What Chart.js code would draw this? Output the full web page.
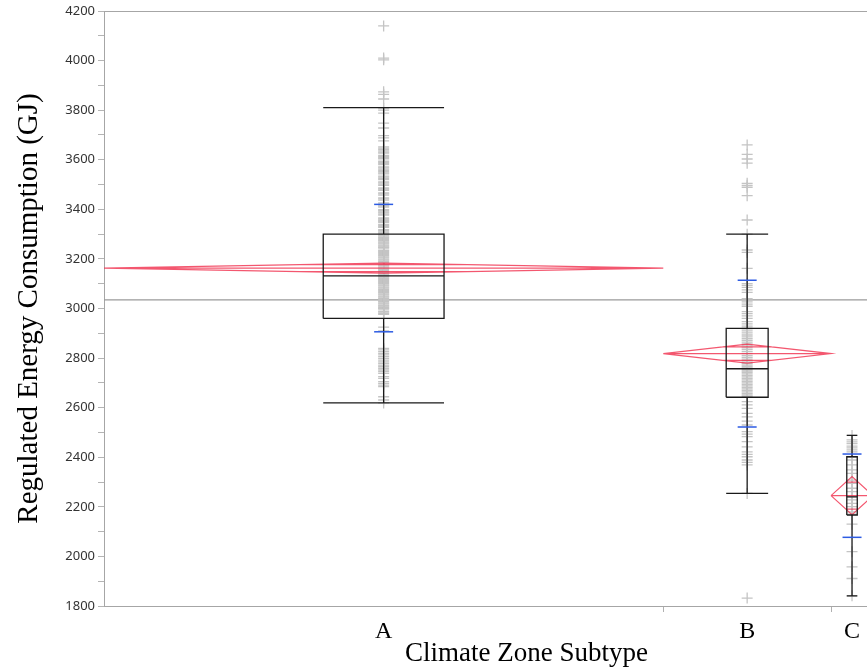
<!DOCTYPE html>
<html>
<head>
<meta charset="utf-8">
<script src="https://cdn.jsdelivr.net/npm/chart.js@4"></script>
<style>
  html, body { margin: 0; padding: 0; background: #fff; overflow: hidden; }
  #wrap { position: relative; width: 874px; height: 669px; }
  #oneway { display: block; }
  #xTitle {
    position: absolute; left: 405px; top: 639px;
    font: 27px "Liberation Serif", "Times New Roman", serif;
    line-height: 27px; color: #000; white-space: nowrap;
  }
</style>
</head>
<body>
<div id="wrap">
  <canvas id="oneway" width="874" height="669"></canvas>
  <div id="xTitle">Climate Zone Subtype</div>
</div>
<script>
// groups and summary stats
const groups = ["A", "B", "C"];
const groupCounts = [400, 120, 30];
const grandMean = 3035;
const means = [3163, 2818, 2245];
const meanCI = [20, 38, 77];
const stdDevs = [257, 296, 168];
const q1 = [2960, 2642, 2167];
const medians = [3132, 2757, 2240];
const q3 = [3300, 2920, 2402];
const whiskerLo = [2619, 2254, 1841];
const whiskerHi = [3810, 3300, 2488];
const yTickValues = [1800, 1900, 2000, 2100, 2200, 2300, 2400, 2500, 2600, 2700, 2800, 2900,
  3000, 3100, 3200, 3300, 3400, 3500, 3600, 3700, 3800, 3900, 4000, 4100, 4200];

const pointsA = [
  4140, 4010, 4003, 3874, 3864, 3845, 3808, 3800, 3788, 3748, 3728, 3697, 3688, 3676,
  3652, 3647, 3642, 3636, 3631, 3627, 3618, 3613, 3609, 3604, 3594, 3590, 3585, 3580,
  3571, 3567, 3562, 3557, 3552, 3547, 3543, 3534, 3530, 3525, 3520, 3511, 3507, 3502,
  3497, 3486, 3482, 3477, 3466, 3462, 3457, 3446, 3442, 3437, 3426, 3422, 3417, 3413,
  3409, 3399, 3395, 3390, 3386, 3381, 3377, 3365, 3361, 3356, 3352, 3348, 3339, 3335,
  3330, 3327, 3318, 3314, 3309, 3305, 3301, 3296, 3292, 3287, 3283, 3278, 3274, 3269,
  3265, 3261, 3256, 3252, 3247, 3244, 3235, 3231, 3226, 3222, 3217, 3213, 3208, 3204,
  3199, 3195, 3190, 3186, 3176, 3172, 3167, 3163, 3158, 3154, 3149, 3145, 3140, 3136,
  3131, 3127, 3122, 3118, 3113, 3109, 3104, 3100, 3095, 3091, 3086, 3082, 3077, 3073,
  3068, 3064, 3059, 3055, 3050, 3046, 3041, 3037, 3032, 3028, 3023, 3019, 3014, 3010,
  3005, 3001, 2998, 2989, 2985, 2980, 2976,
  2925, 2910, 2839, 2833, 2826, 2819, 2813, 2806, 2799, 2792, 2785, 2779, 2772, 2766,
  2759, 2752, 2745, 2738, 2725, 2718, 2705, 2698, 2691, 2685, 2644, 2631, 2619
];
const pointsB = [
  3660, 3622, 3603, 3586, 3505, 3497, 3489, 3455, 3357,
  3300, 3236, 3226, 3162, 3100, 3093, 3085, 3075, 3065, 3040, 3034, 3027, 3018, 3009,
  2987, 2979, 2970, 2960, 2947, 2938, 2929, 2921, 2913, 2905, 2897, 2889, 2880, 2872,
  2864, 2857, 2849, 2841, 2834, 2826, 2818, 2810, 2803, 2796, 2790, 2784, 2778, 2772,
  2766, 2760, 2754, 2748, 2742, 2736, 2730, 2724, 2718, 2712, 2706, 2700, 2694, 2688,
  2682, 2676, 2670, 2664, 2658, 2652, 2646,
  2624, 2611, 2597, 2577, 2563, 2546, 2530, 2503, 2493, 2483, 2463, 2442, 2422, 2412,
  2402, 2389, 2379, 2369, 2254, 1832
];
const pointsC = [
  2488, 2470, 2462, 2455, 2445, 2438, 2430, 2422, 2400, 2389, 2369, 2349, 2335, 2308,
  2295, 2275, 2261, 2241, 2228, 2214, 2201, 2180, 2170, 2130, 2019, 1958, 1911, 1841
];
const groupPoints = [pointsA, pointsB, pointsC];

// x positions: each group gets a slice proportional to its count
const starts = [];
let acc = 0;
groupCounts.forEach((n) => { starts.push(acc); acc += n; });
const xMax = acc;
const ends = starts.map((s, i) => s + groupCounts[i]);
const centers = starts.map((s, i) => s + groupCounts[i] / 2);
const bounds = ends.slice(0, -1);

const BOX_FRACTION = [0.108, 0.125, 0.125];
const gap = { x: null, y: null };

const boxData = [];
const diamondData = [];
groups.forEach((g, i) => {
  const c = centers[i];
  const bw = groupCounts[i] * BOX_FRACTION[i];
  const bl = c - bw, br = c + bw;
  boxData.push(
    { x: bl, y: q1[i] }, { x: bl, y: q3[i] }, { x: br, y: q3[i] }, { x: br, y: q1[i] }, { x: bl, y: q1[i] }, gap,
    { x: bl, y: medians[i] }, { x: br, y: medians[i] }, gap,
    { x: c, y: q3[i] }, { x: c, y: whiskerHi[i] }, gap,
    { x: c, y: q1[i] }, { x: c, y: whiskerLo[i] }, gap,
    { x: bl, y: whiskerHi[i] }, { x: br, y: whiskerHi[i] }, gap,
    { x: bl, y: whiskerLo[i] }, { x: br, y: whiskerLo[i] }, gap
  );
  const L = starts[i], R = ends[i], m = means[i], h = meanCI[i];
  const ov = (R - L) / 2 * (1 - Math.SQRT1_2);
  diamondData.push(
    { x: L, y: m }, { x: c, y: m + h }, { x: R, y: m }, { x: c, y: m - h }, { x: L, y: m }, gap,
    { x: L, y: m }, { x: R, y: m }, gap,
    { x: c - ov, y: m + h * Math.SQRT1_2 }, { x: c + ov, y: m + h * Math.SQRT1_2 }, gap,
    { x: c - ov, y: m - h * Math.SQRT1_2 }, { x: c + ov, y: m - h * Math.SQRT1_2 }, gap
  );
});

const sdData = [];
groups.forEach((g, i) => {
  sdData.push({ x: centers[i], y: means[i] + stdDevs[i] });
  sdData.push({ x: centers[i], y: means[i] - stdDevs[i] });
});

const pointData = [];
groupPoints.forEach((vals, i) => {
  vals.forEach((v) => pointData.push({ x: centers[i], y: v }));
});

const axisGray = "#a6a6a6";

new Chart(document.getElementById("oneway"), {
  type: "scatter",
  data: {
    datasets: [
      {
        label: "Std Dev",
        data: sdData,
        pointStyle: "line",
        pointRadius: 9.5,
        borderColor: "#2d5be3",
        borderWidth: 1.5,
      },
      {
        label: "Box",
        data: boxData,
        showLine: true,
        pointRadius: 0,
        borderColor: "#1a1a1a",
        borderWidth: 1.3,
      },
      {
        label: "Means diamonds",
        data: diamondData,
        showLine: true,
        pointRadius: 0,
        borderColor: "rgba(240, 45, 75, 0.8)",
        borderWidth: 1.2,
      },
      {
        label: "Points",
        data: pointData,
        pointStyle: "cross",
        pointRadius: 5.5,
        borderColor: "#c4c4c4",
        backgroundColor: "#c4c4c4",
        borderWidth: 1.3,
      },
      {
        label: "Grand mean",
        data: [{ x: 0, y: grandMean }, { x: xMax, y: grandMean }],
        showLine: true,
        pointRadius: 0,
        borderColor: "#9a9a9a",
        borderWidth: 1.2,
      },
    ],
  },
  options: {
    responsive: false,
    maintainAspectRatio: false,
    animation: false,
    events: [],
    layout: { autoPadding: false, padding: { top: 11, right: 1, left: 0, bottom: 0 } },
    plugins: { legend: { display: false }, tooltip: { enabled: false } },
    scales: {
      x: {
        type: "linear",
        min: 0,
        max: xMax,
        afterBuildTicks: (s) => {
          s.ticks = centers.concat(bounds).sort((a, b) => a - b).map((v) => ({ value: v }));
        },
        afterFit: (s) => { s.height = 63; },
        ticks: {
          autoSkip: false,
          maxRotation: 0,
          padding: 5,
          color: "#000",
          font: { family: "Liberation Serif", size: 24 },
          callback: (v) => {
            const i = centers.indexOf(v);
            return i >= 0 ? groups[i] : "";
          },
        },
        grid: {
          drawOnChartArea: false,
          tickLength: 6,
          tickColor: (ctx) => (ctx.tick && bounds.includes(ctx.tick.value) ? "#b0b0b0" : "rgba(0,0,0,0)"),
        },
        border: { color: axisGray },
      },
      xTop: {
        type: "linear",
        position: "top",
        min: 0,
        max: xMax,
        ticks: { display: false },
        grid: { drawOnChartArea: false, drawTicks: false },
        border: { display: true, color: axisGray },
        afterFit: (s) => { s.height = 0; },
      },
      y: {
        type: "linear",
        min: 1800,
        max: 4200,
        afterBuildTicks: (s) => { s.ticks = yTickValues.map((v) => ({ value: v })); },
        afterFit: (s) => { s.width = 104; },
        ticks: {
          autoSkip: false,
          padding: 3,
          color: "#333",
          font: { family: "Noto Sans", size: 13 },
          callback: (v) => (v % 200 === 0 ? String(v) : ""),
        },
        grid: { drawOnChartArea: false, tickLength: 6, color: "#b4b4b4" },
        border: { color: axisGray },
        title: {
          display: true,
          text: "Regulated Energy Consumption (GJ)",
          color: "#000",
          font: { family: "Liberation Serif", size: 29 },
          padding: { top: 12, bottom: 0 },
        },
      },
    },
  },
});
</script>
</body>
</html>
